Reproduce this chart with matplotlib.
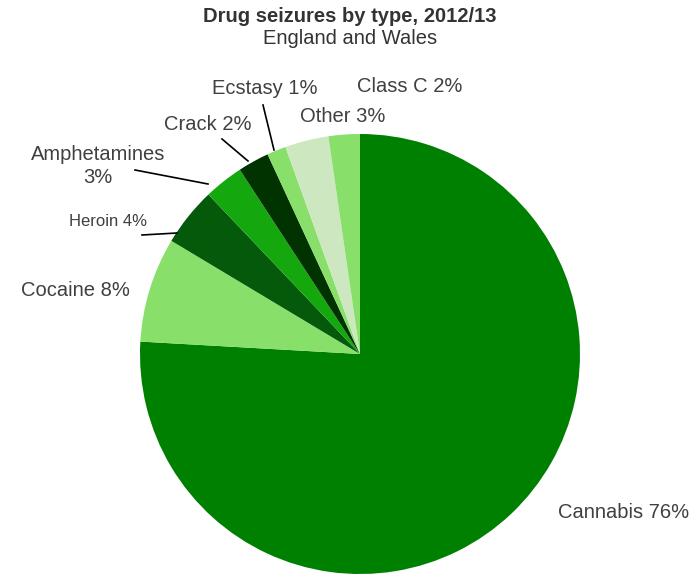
import matplotlib.pyplot as plt

drugs = ["Cannabis", "Cocaine", "Heroin", "Amphetamines", "Crack", "Ecstasy", "Other", "Class C"]
shares = [75.9, 7.7, 4.3, 2.9, 2.3, 1.4, 3.2, 2.3]
label_text = ["Cannabis 76%", "Cocaine 8%", "Heroin 4%", "Amphetamines\n3%", "Crack 2%",
              "Ecstasy 1%", "Other 3%", "Class C 2%"]
colors = ["#008000", "#88e06a", "#045a0a", "#14a80e", "#003300", "#88e06a", "#cde8c0", "#88e06a"]

plt.rcParams['font.family'] = ['Liberation Sans', 'DejaVu Sans']

W, H = 695, 574
fig = plt.figure(figsize=(W / 100, H / 100), dpi=100)
cx, cy, r = 360, 354, 220
ax = fig.add_axes([(cx - r) / W, (H - cy - r) / H, 2 * r / W, 2 * r / H])

ax.pie(shares, colors=colors, startangle=90, counterclock=False, radius=1,
       wedgeprops=dict(linewidth=0))
ax.set_xlim(-1, 1)
ax.set_ylim(-1, 1)
ax.set_aspect('equal')
ax.axis('off')


def d(px, py):
    return (px - cx) / r, (cy - py) / r


# label positions in pixels (centre of text)
label_pos = [(624, 513), (75, 291), (108, 222), (98, 166), (208, 124),
             (265, 89), (343, 117), (410, 87)]
label_size = [14.5, 14.5, 12, 14.5, 14.5, 14.5, 14.5, 14.5]
for txt, (px, py), fs in zip(label_text, label_pos, label_size):
    x, y = d(px, py)
    ax.text(x, y, txt, ha='center', va='center', fontsize=fs, color='#404040',
            clip_on=False, linespacing=1.3)

# leader lines
leaders = [((142, 235), (177, 233)), ((135, 170), (208, 184)),
           ((222, 139), (248, 161)), ((263, 105), (274, 150))]
for p0, p1 in leaders:
    x0, y0 = d(*p0)
    x1, y1 = d(*p1)
    ax.plot([x0, x1], [y0, y1], color='black', linewidth=1.2, clip_on=False)

fig.text(350 / W, 1 - 16 / H, "Drug seizures by type, 2012/13", ha='center', va='center',
         fontsize=14.5, fontweight='bold', color='#333333')
fig.text(350 / W, 1 - 38 / H, "England and Wales", ha='center', va='center',
         fontsize=14.5, color='#333333')

fig.savefig("out.png", dpi=100)
